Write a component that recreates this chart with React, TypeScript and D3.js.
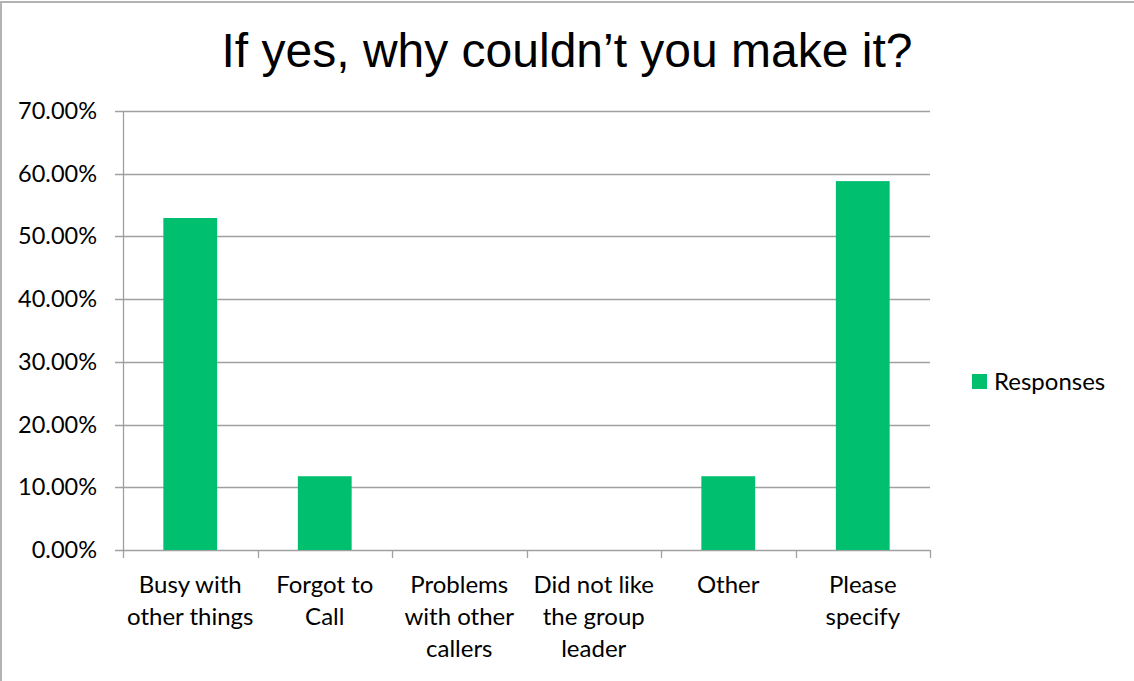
import React from "react";
import * as d3 from "d3";

const categories = [
  ["Busy with", "other things"],
  ["Forgot to", "Call"],
  ["Problems", "with other", "callers"],
  ["Did not like", "the group", "leader"],
  ["Other"],
  ["Please", "specify"],
];
const values = [0.5294, 0.1176, 0, 0, 0.1176, 0.5882];
const yTicks = [0, 0.1, 0.2, 0.3, 0.4, 0.5, 0.6, 0.7];
const title = "If yes, why couldn\u2019t you make it?";
const seriesName = "Responses";

const W = 1134, H = 681;
const left = 123, right = 930, top = 111, bottom = 550;
const green = "#00BF6F";
const font = "Lato, 'Open Sans', sans-serif";

export default function App() {
  const x = d3.scaleBand<number>().domain(d3.range(values.length)).range([left, right]).paddingInner(0.6).paddingOuter(0.3);
  const xs = d3.scaleBand<number>().domain(d3.range(values.length)).range([left, right]);
  const y = d3.scaleLinear().domain([0, 0.7]).range([bottom, top]);
  const fmt = d3.format(".2%");
  return (
    <svg width={W} height={H} style={{ position: "absolute", left: 0, top: 0, background: "#fff" }}>
      <rect x={1} y={2} width={W + 10} height={H + 10} fill="#fff" stroke="#b3b3b3" strokeWidth={2} />
      <text x={567} y={67} textAnchor="middle" fontFamily="'Liberation Sans', Arial, sans-serif" fontSize={48} fill="#000">{title}</text>
      {yTicks.map((t) => (
        <g key={t}>
          <line x1={left - 8} x2={right} y1={Math.round(y(t)) + 0.5} y2={Math.round(y(t)) + 0.5} stroke="#a0a0a0" strokeWidth={1.3} />
          <text x={97} y={y(t) + 8} textAnchor="end" fontFamily={font} fontSize={23.5} fill="#000">{fmt(t)}</text>
        </g>
      ))}
      <line x1={left + 0.5} x2={left + 0.5} y1={top} y2={bottom} stroke="#a0a0a0" strokeWidth={1.3} />
      {d3.range(values.length + 1).map((i) => {
        const xx = Math.round(left + i * xs.step()) + 0.5;
        return <line key={i} x1={xx} x2={xx} y1={bottom} y2={bottom + 8} stroke="#a0a0a0" strokeWidth={1.3} />;
      })}
      {values.map((v, i) => (
        v > 0 ? <rect key={i} x={x(i)} y={y(v)} width={x.bandwidth()} height={bottom - y(v)} fill={green} /> : null
      ))}
      {categories.map((lines, i) => (
        <text key={i} textAnchor="middle" fontFamily={font} fontSize={24} fill="#000">
          {lines.map((l, j) => (
            <tspan key={j} x={(xs(i) as number) + xs.bandwidth() / 2} y={593 + j * 32}>{l}</tspan>
          ))}
        </text>
      ))}
      <rect x={972} y={374} width={15} height={15} fill={green} />
      <text x={994} y={390} fontFamily={font} fontSize={24} fill="#000">{seriesName}</text>
    </svg>
  );
}
